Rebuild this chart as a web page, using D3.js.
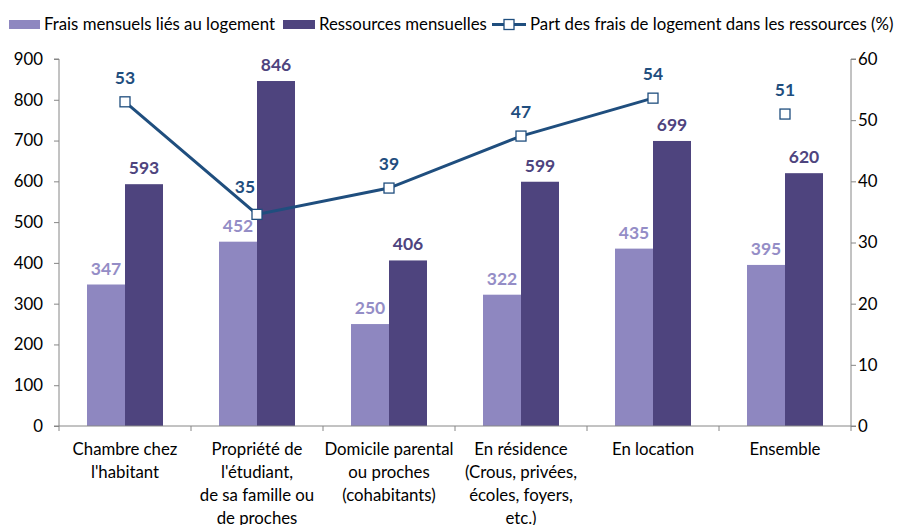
<!DOCTYPE html>
<html><head><meta charset="utf-8">
<script src="https://cdn.jsdelivr.net/npm/d3@7"></script>
<style>body{margin:0;background:#fff}svg{display:block}text{font-family:Lato,"Open Sans",sans-serif}</style>
</head><body><svg id="c" width="898" height="525"></svg>
<script>
const categories = [
  ["Chambre chez","l'habitant"],
  ["Propriété de","l'étudiant,","de sa famille ou","de proches"],
  ["Domicile parental","ou proches","(cohabitants)"],
  ["En résidence","(Crous, privées,","écoles, foyers,","etc.)"],
  ["En location"],
  ["Ensemble"]
];
const frais = [347, 452, 250, 322, 435, 395];
const ressources = [593, 846, 406, 599, 699, 620];
const part = [53, 34.6, 38.9, 47.4, 53.6, 51];
const leftTicks = [0,100,200,300,400,500,600,700,800,900];
const rightTicks = [0,10,20,30,40,50,60];
const seriesNames = ["Frais mensuels liés au logement","Ressources mensuelles","Part des frais de logement dans les ressources (%)"];

const C1="#8E87C0", C2="#4E447E", CL="#1F4E7E", AX="#868686";
const FS=16.8;
const svg=d3.select("#c");
const m={l:59,r:851,t:59,b:426};
const x=d3.scaleBand().domain(d3.range(categories.length)).range([m.l,m.r]).paddingInner(0).paddingOuter(0);
const y=d3.scaleLinear().domain([0,900]).range([m.b,m.t]);
const y2=d3.scaleLinear().domain([0,60]).range([m.b,m.t]);
const gw=76;
const xs=d3.scaleBand().domain([0,1]).range([0,gw]);

// axes
const gl=svg.append("g").attr("transform",`translate(${m.l},0)`)
  .call(d3.axisLeft(y).tickValues(leftTicks).tickSize(5).tickPadding(11));
const gr=svg.append("g").attr("transform",`translate(${m.r},0)`)
  .call(d3.axisRight(y2).tickValues(rightTicks).tickSize(5).tickPadding(2));
[gl,gr].forEach(g=>{
  g.selectAll(".tick line").attr("stroke",AX);
  g.selectAll("text").attr("font-size",FS).attr("fill","#000").attr("font-family","Lato");
});
gl.select(".domain").attr("stroke",AX).attr("d",`M-5,${m.t}H0V${m.b}H-5`);
gr.select(".domain").attr("stroke",AX).attr("d",`M5,${m.t}H0V${m.b}H5`);

// bars
const groups=svg.append("g").selectAll("g").data(categories).join("g")
  .attr("transform",(d,i)=>`translate(${x(i)+x.bandwidth()/2-gw/2},0)`);
groups.append("rect").attr("x",0).attr("width",xs.bandwidth())
  .attr("y",(d,i)=>y(frais[i])).attr("height",(d,i)=>y(0)-y(frais[i])).attr("fill",C1);
groups.append("rect").attr("x",xs(1)).attr("width",xs.bandwidth())
  .attr("y",(d,i)=>y(ressources[i])).attr("height",(d,i)=>y(0)-y(ressources[i])).attr("fill",C2);
groups.append("text").attr("x",xs.bandwidth()/2).attr("y",(d,i)=>y(frais[i])-10)
  .attr("text-anchor","middle").attr("font-size",17.5).attr("font-weight","bold").attr("fill","#948DC6")
  .text((d,i)=>frais[i]);
groups.append("text").attr("x",xs(1)+xs.bandwidth()/2).attr("y",(d,i)=>y(ressources[i])-10)
  .attr("text-anchor","middle").attr("font-size",17.5).attr("font-weight","bold").attr("fill",C2)
  .text((d,i)=>ressources[i]);

// x axis
const gx=svg.append("g").attr("transform",`translate(0,${m.b})`);
gx.append("line").attr("x1",m.l).attr("x2",m.r).attr("stroke",AX);
gx.selectAll("line.t").data(d3.range(categories.length+1)).join("line").attr("class","t")
  .attr("x1",i=>m.l+i*x.bandwidth()).attr("x2",i=>m.l+i*x.bandwidth()).attr("y1",0).attr("y2",5).attr("stroke",AX);
gx.selectAll("text").data(categories).join("text")
  .attr("x",(d,i)=>x(i)+x.bandwidth()/2).attr("y",29).attr("text-anchor","middle").attr("font-size",FS).attr("fill","#000")
  .each(function(d){
    d3.select(this).selectAll("tspan").data(d).join("tspan")
      .attr("x",d3.select(this).attr("x")).attr("dy",(t,j)=>j?23:0).text(t=>t);
  });

// line
const cx=i=>x(i)+x.bandwidth()/2;
const line=d3.line().x(d=>cx(d)).y(d=>y2(part[d]));
svg.append("path").attr("d",line(d3.range(5))).attr("fill","none").attr("stroke",CL).attr("stroke-width",3);
svg.selectAll("rect.mk").data(part).join("rect").attr("class","mk")
  .attr("x",(d,i)=>cx(i)-5).attr("y",d=>y2(d)-5).attr("width",10).attr("height",10)
  .attr("fill","#fff").attr("stroke",CL).attr("stroke-width",1.3);
svg.selectAll("text.pl").data(part).join("text").attr("class","pl")
  .attr("x",(d,i)=>cx(i)+(i===1?-12:0)).attr("y",(d,i)=>y2(d)-(i===1?21:18))
  .attr("text-anchor","middle").attr("font-size",17.5).attr("font-weight","bold").attr("fill",CL)
  .text(d=>Math.round(d));

// legend
const lg=svg.append("g");
lg.append("rect").attr("x",9).attr("y",20).attr("width",31).attr("height",9).attr("fill",C1);
lg.append("text").attr("x",44).attr("y",30).attr("font-size",FS).text(seriesNames[0]);
lg.append("rect").attr("x",283).attr("y",20).attr("width",32).attr("height",9).attr("fill",C2);
lg.append("text").attr("x",319).attr("y",30).attr("font-size",FS).text(seriesNames[1]);
lg.append("line").attr("x1",492).attr("x2",526).attr("y1",24.5).attr("y2",24.5).attr("stroke",CL).attr("stroke-width",3);
lg.append("rect").attr("x",504).attr("y",19.5).attr("width",10).attr("height",10).attr("fill","#fff").attr("stroke",CL).attr("stroke-width",1.3);
lg.append("text").attr("x",530).attr("y",30).attr("font-size",FS).text(seriesNames[2]);
</script></body></html>
